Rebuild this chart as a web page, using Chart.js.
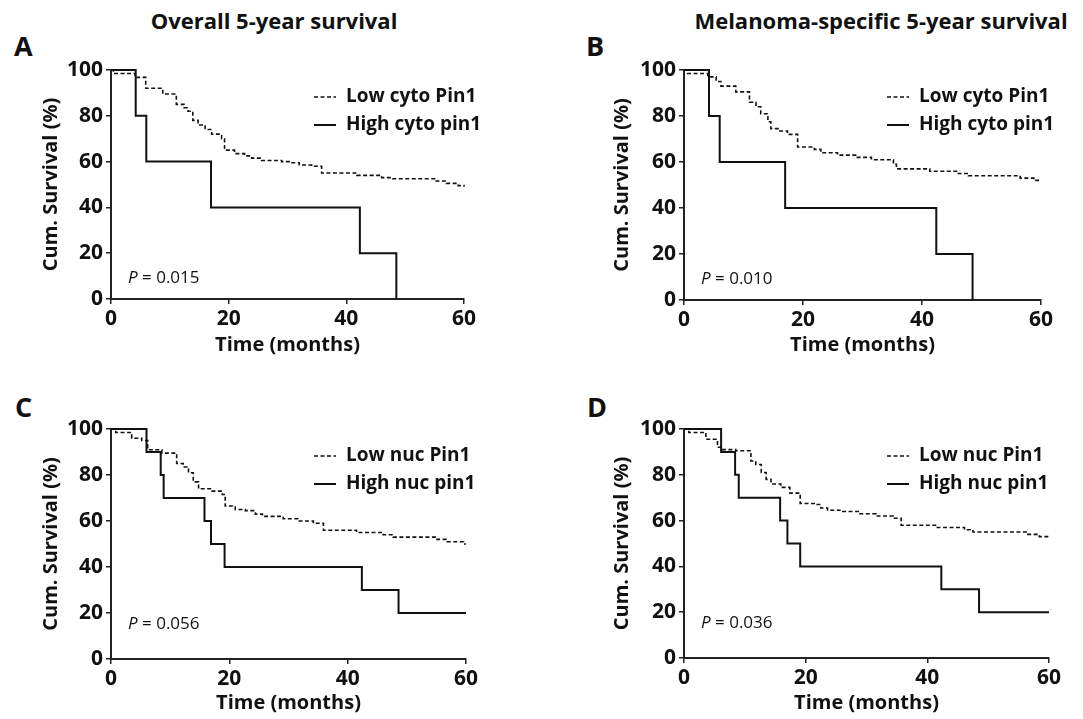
<!DOCTYPE html>
<html>
<head>
<meta charset="utf-8">
<script src="https://cdn.jsdelivr.net/npm/chart.js@4.4.1/dist/chart.umd.min.js"></script>
<style>
  body { margin: 0; background: #fff; }
  #wrap { position: relative; width: 1083px; height: 719px; overflow: hidden; font-family: "Open Sans", sans-serif; color: #111; }
  .panel { position: absolute; }
  .head { position: absolute; font-weight: bold; font-size: 22px; transform: translate(-50%, -50%); white-space: nowrap; }
  .letter { position: absolute; font-weight: bold; font-size: 27px; transform: translateY(-50%); }
</style>
</head>
<body>
<div id="wrap">
  <div class="head" style="left:274px; top:20px;">Overall 5-year survival</div>
  <div class="head" style="left:881px; top:20px;">Melanoma-specific 5-year survival</div>
  <div class="letter" style="left:14px; top:45px;">A</div>
  <div class="letter" style="left:586px; top:45px;">B</div>
  <div class="letter" style="left:15px; top:406px;">C</div>
  <div class="letter" style="left:587px; top:406px;">D</div>
  <canvas id="cA" class="panel" width="540" height="320" style="left:0px; top:40px;"></canvas>
  <canvas id="cB" class="panel" width="510" height="320" style="left:573px; top:40px;"></canvas>
  <canvas id="cC" class="panel" width="540" height="319" style="left:0px; top:400px;"></canvas>
  <canvas id="cD" class="panel" width="510" height="319" style="left:573px; top:400px;"></canvas>
</div>
<script>
// tick values
var xTicks = [0, 20, 40, 60];
var yTicks = [0, 20, 40, 60, 80, 100];

// A - overall survival, cytoplasmic Pin1
var lowCytoOsT = [0, 0.4, 4.1, 5.9, 8.8, 11.1, 12.4, 13.1, 13.9, 14.8, 16.0, 17.1, 18.8, 19.3, 21.0, 22.7, 23.9, 25.6, 29.0, 30.5, 32.0, 34.1, 35.8, 41.8, 46.0, 47.7, 55.0, 57.0, 59.0, 60];
var lowCytoOsS = [100, 98.5, 96.8, 92, 89.5, 85, 83.5, 82, 78, 76, 74, 72, 70, 65, 63.5, 62.5, 61.5, 60.5, 60, 59.5, 58.5, 58, 55, 54, 53, 52.5, 51.5, 50.5, 49.5, 49];
var highCytoOsT = [0, 4.2, 6.0, 17.0, 42.3, 48.5];
var highCytoOsS = [100, 80, 60, 40, 20, 0];

// B - melanoma-specific survival, cytoplasmic Pin1
var lowCytoMsT = [0, 0.6, 4.0, 5.4, 6.2, 8.7, 11.0, 12.1, 12.9, 14.1, 14.6, 15.8, 17.4, 19.1, 21.9, 23.0, 25.8, 29.0, 31.5, 35.2, 35.7, 41.3, 46.1, 47.8, 56.5, 58.8, 60];
var lowCytoMsS = [100, 98.5, 97, 95, 93, 90.5, 86, 84, 81, 77.5, 74.5, 73.5, 72, 66.5, 65.5, 64, 63, 62, 61, 59, 57, 56, 55, 54, 53, 52, 52];
var highCytoMsT = [0, 4.2, 6.0, 17.0, 42.4, 48.5];
var highCytoMsS = [100, 80, 60, 40, 20, 0];

// C - overall survival, nuclear Pin1
var lowNucOsT = [0, 0.8, 3.5, 5.2, 6.2, 8.6, 11.1, 12.2, 13.1, 13.9, 14.8, 17.1, 18.8, 19.3, 21.0, 22.7, 24.4, 25.6, 29.1, 31.6, 34.2, 35.9, 41.5, 46.0, 47.7, 55.1, 56.8, 59.6, 60];
var lowNucOsS = [100, 98.5, 96, 95, 91, 89.5, 85, 83.5, 81, 77, 74, 73, 71.5, 66.5, 65, 64.5, 63, 62, 61, 60, 59, 56, 55, 54, 53, 52, 51, 50, 50];
var highNucOsT = [0, 6.0, 8.4, 8.9, 15.8, 16.9, 19.2, 42.4, 48.6, 60];
var highNucOsS = [100, 90, 80, 70, 60, 50, 40, 30, 20, 20];

// D - melanoma-specific survival, nuclear Pin1
var lowNucMsT = [0, 0.8, 3.6, 5.5, 6.1, 8.5, 11.0, 11.8, 12.7, 13.5, 14.3, 15.9, 17.4, 19.1, 21.4, 22.5, 23.6, 25.8, 28.9, 31.6, 34.4, 35.7, 41.5, 46.1, 47.5, 56.5, 58.4, 60];
var lowNucMsS = [100, 98.5, 95.5, 92, 91, 90.5, 86, 84.5, 81, 78, 76, 74.5, 72, 67.5, 67, 65.5, 64.5, 64, 63, 62, 61, 58, 57, 56, 55, 54, 53, 53];
var highNucMsT = [0, 6.1, 8.4, 9.0, 15.8, 17.0, 19.1, 42.3, 48.5, 60];
var highNucMsS = [100, 90, 80, 70, 60, 50, 40, 30, 20, 20];

var cytoLabels = ["Low cyto Pin1", "High cyto pin1"];
var nucLabels = ["Low nuc Pin1", "High nuc pin1"];
var pValues = ["0.015", "0.010", "0.056", "0.036"];
var pValueY = [9, 9, 15, 15];

Chart.defaults.font.family = '"Open Sans", sans-serif';
Chart.defaults.color = '#111';

function pts(t, s) {
  return t.map(function(v, i) { return {x: v, y: s[i]}; });
}

// legend + P value drawn on the canvas
var kmExtras = {
  id: 'kmExtras',
  afterDraw: function(chart) {
    var ctx = chart.ctx;
    var ca = chart.chartArea;
    var o = chart.options.plugins.kmExtras;
    ctx.save();
    ctx.fillStyle = '#111';
    ctx.strokeStyle = '#111';
    ctx.textBaseline = 'middle';
    chart.data.datasets.forEach(function(ds, i) {
      var y = ca.top + 27 + 28 * i;
      ctx.lineWidth = ds.borderWidth;
      ctx.setLineDash(ds.borderDash || []);
      ctx.beginPath();
      ctx.moveTo(ca.left + 203, y);
      ctx.lineTo(ca.left + 225, y);
      ctx.stroke();
      ctx.setLineDash([]);
      ctx.font = 'bold 19px "Open Sans"';
      ctx.fillText(ds.label, ca.left + 235, y);
    });
    var py = chart.scales.y.getPixelForValue(o.pY);
    var px = ca.left + 17;
    ctx.font = 'italic 17px "Open Sans"';
    ctx.fillText('P', px, py);
    px += ctx.measureText('P').width;
    ctx.font = '17px "Open Sans"';
    ctx.fillText(' = ' + o.p, px, py);
    ctx.restore();
  }
};

function makeChart(id, labels, lowT, lowS, highT, highS, p, pY, lay) {
  return new Chart(document.getElementById(id), {
    type: 'line',
    data: {
      datasets: [
        { label: labels[0], data: pts(lowT, lowS), borderColor: '#111', borderWidth: 1.6, borderDash: [4, 2.5], stepped: true, pointRadius: 0, fill: false, clip: 4 },
        { label: labels[1], data: pts(highT, highS), borderColor: '#111', borderWidth: 2, stepped: true, pointRadius: 0, fill: false, clip: 4 }
      ]
    },
    options: {
      responsive: false,
      animation: false,
      events: [],
      layout: { padding: { top: lay.top, right: lay.right, left: 0, bottom: 0 } },
      plugins: {
        legend: { display: false },
        tooltip: { enabled: false },
        kmExtras: { p: p, pY: pY }
      },
      scales: {
        x: {
          type: 'linear', min: 0, max: 60,
          afterBuildTicks: function(s) { s.ticks = xTicks.map(function(v) { return {value: v}; }); },
          afterFit: function(s) { s.height = lay.xH; },
          ticks: { font: { size: 21, weight: 'bold' }, color: '#111', padding: 2, maxRotation: 0 },
          grid: { drawOnChartArea: false, drawTicks: true, tickLength: 5, color: '#222', lineWidth: 1.5 },
          border: { color: '#222', width: 2 },
          title: { display: true, text: 'Time (months)', font: { size: 20, weight: 'bold' }, color: '#111', padding: { top: 0, bottom: lay.xtPad } }
        },
        y: {
          min: 0, max: 100,
          afterBuildTicks: function(s) { s.ticks = yTicks.map(function(v) { return {value: v}; }); },
          afterFit: function(s) { s.width = 111; },
          ticks: { font: { size: 21, weight: 'bold' }, color: '#111', padding: 3 },
          grid: { drawOnChartArea: false, drawTicks: true, tickLength: 5, color: '#222', lineWidth: 1.5 },
          border: { color: '#222', width: 2 },
          title: { display: true, text: 'Cum. Survival (%)', font: { size: 20, weight: 'bold' }, color: '#111', padding: { top: lay.ytPad, bottom: 0 } }
        }
      }
    },
    plugins: [kmExtras]
  });
}

makeChart('cA', cytoLabels, lowCytoOsT, lowCytoOsS, highCytoOsT, highCytoOsS, pValues[0], pValueY[0], { top: 30, right: 76, xH: 61, xtPad: 3, ytPad: 39 });
makeChart('cB', cytoLabels, lowCytoMsT, lowCytoMsS, highCytoMsT, highCytoMsS, pValues[1], pValueY[1], { top: 30, right: 42, xH: 60, xtPad: 3, ytPad: 37 });
makeChart('cC', nucLabels, lowNucOsT, lowNucOsS, highNucOsT, highNucOsS, pValues[2], pValueY[2], { top: 29, right: 74, xH: 60, xtPad: 4, ytPad: 39 });
makeChart('cD', nucLabels, lowNucMsT, lowNucMsS, highNucMsT, highNucMsS, pValues[3], pValueY[3], { top: 29, right: 34, xH: 61, xtPad: 4, ytPad: 37 });
</script>
</body>
</html>
